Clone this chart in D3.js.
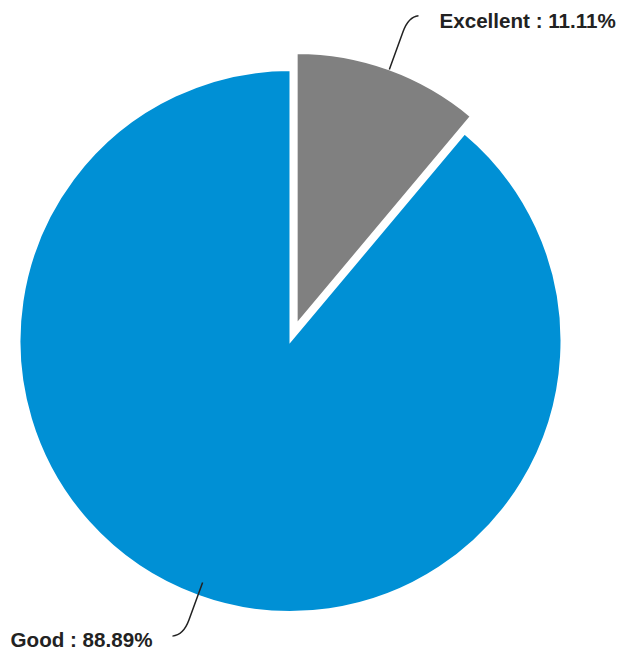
<!DOCTYPE html>
<html>
<head>
<meta charset="utf-8">
<script src="https://cdn.jsdelivr.net/npm/d3@7/dist/d3.min.js"></script>
<style>
  html, body { margin: 0; padding: 0; background: #ffffff; }
  svg { display: block; }
</style>
</head>
<body>
<div id="chart"></div>
<script>
const categories = ["Excellent", "Good"];
const values = [11.11, 88.89];
const colors = ["#808080", "#0090d5"];
const exploded = [true, false];

const width = 619, height = 651;
const cx = 290.5, cy = 341, R = 271;
const explodeDist = 18;

const svg = d3.select("#chart").append("svg")
  .attr("width", width).attr("height", height);

const data = categories.map((c, i) => ({ name: c, value: values[i], color: colors[i], exploded: exploded[i] }));

const pie = d3.pie().sort(null).value(d => d.value);
const arcs = pie(data);
const arc = d3.arc().innerRadius(0).outerRadius(R);

const g = svg.append("g").attr("transform", `translate(${cx},${cy})`);

arcs.forEach(a => {
  const mid = (a.startAngle + a.endAngle) / 2;
  const off = a.data.exploded ? explodeDist : 0;
  a.ox = off * Math.sin(mid);
  a.oy = -off * Math.cos(mid);
  a.mid = mid;
});

g.selectAll("path.slice")
  .data(arcs)
  .join("path")
  .attr("class", "slice")
  .attr("transform", d => `translate(${d.ox},${d.oy})`)
  .attr("d", arc)
  .attr("fill", d => d.data.color)
  .attr("stroke", "#ffffff")
  .attr("stroke-width", 2);

// connectors and labels
const total = d3.sum(values);
arcs.forEach(a => {
  const s = Math.sin(a.mid), c = -Math.cos(a.mid);
  const r0 = a.data.exploded ? R : R - 14;
  const pt = r => [a.ox + r * s, a.oy + r * c];
  const p0 = pt(r0), p1 = pt(r0 + 40), p2 = pt(r0 + 56);
  const right = s >= 0;
  const p3 = [p2[0] + (right ? 10 : -11), p2[1] + (right ? -1 : 1)];
  const path = d3.path();
  path.moveTo(p0[0], p0[1]);
  path.lineTo(p1[0], p1[1]);
  path.quadraticCurveTo(p2[0], p2[1], p3[0], p3[1]);
  g.append("path")
    .attr("d", path.toString())
    .attr("fill", "none")
    .attr("stroke", "#222")
    .attr("stroke-width", 1.5);
  const pct = (a.data.value / total * 100).toFixed(2) + "%";
  g.append("text")
    .attr("x", p3[0] + (right ? 21 : -20))
    .attr("y", p3[1] + (right ? 12 : 11))
    .attr("text-anchor", right ? "start" : "end")
    .attr("font-family", "Liberation Sans, Arial, sans-serif")
    .attr("font-weight", "bold")
    .attr("font-size", "20.6px")
    .attr("fill", "#222")
    .text(`${a.data.name} : ${pct}`);
});
</script>
</body>
</html>
